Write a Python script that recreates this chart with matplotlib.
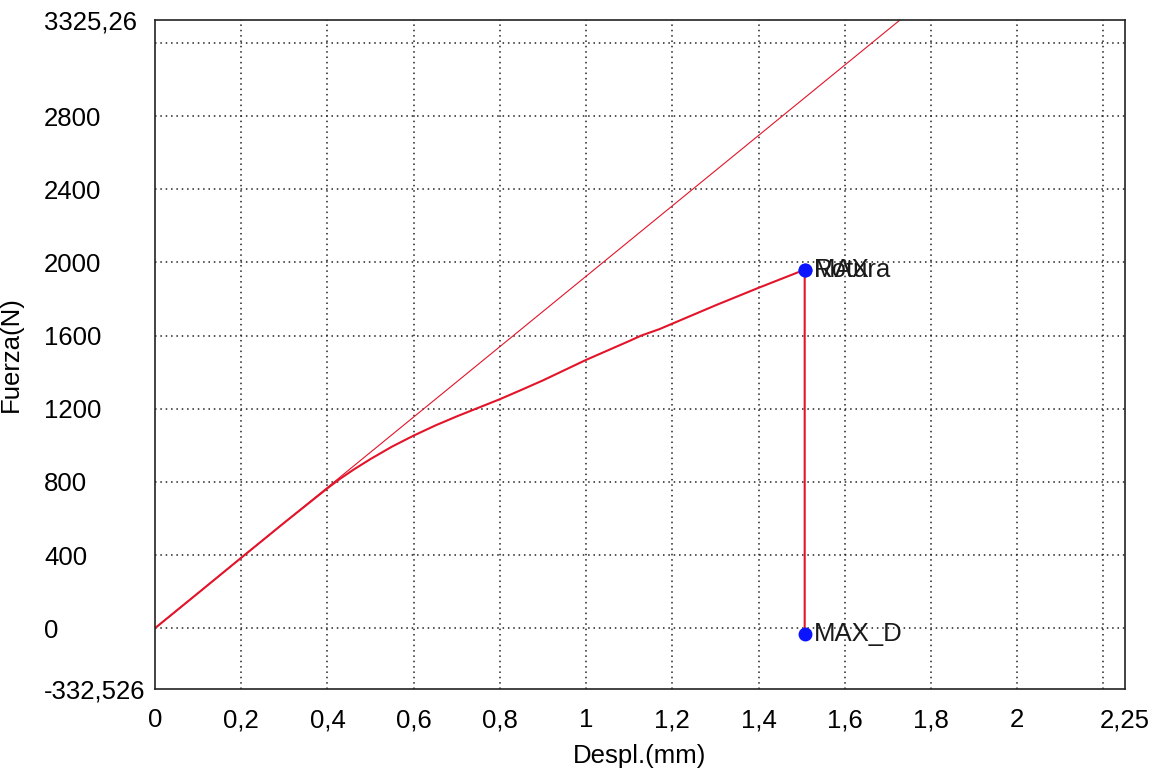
"""
Force vs displacement curve (Fuerza vs Despl.) with the elastic reference line
and the marked points Rotura / MAX / MAX_D.
"""

import matplotlib
matplotlib.use('Agg')
import matplotlib.pyplot as plt

# Test curve
despl_mm = [0, 0.1, 0.2, 0.3, 0.4, 0.43, 0.46, 0.5, 0.55, 0.6, 0.65, 0.7, 0.75,
            0.8, 0.85, 0.9, 1.0, 1.1, 1.128, 1.17, 1.2, 1.3, 1.4, 1.507, 1.507]
fuerza_n = [0, 192, 385, 577, 765, 818, 866, 925, 993, 1053, 1108, 1158, 1205,
            1252, 1303, 1355, 1467, 1570, 1600, 1635, 1665, 1765, 1861, 1960, -33]

# Elastic slope line
linea_x = [0, 1.728]
linea_y = [0, 3325.26]

# Marked points
puntos_x = [1.507, 1.507, 1.507]
puntos_y = [1960, 1960, -33]
puntos_nombre = ['Rotura', 'MAX', 'MAX_D']

# Axis ticks
x_ticks = [0, 0.2, 0.4, 0.6, 0.8, 1, 1.2, 1.4, 1.6, 1.8, 2, 2.25]
x_tick_labels = ['0', '0,2', '0,4', '0,6', '0,8', '1', '1,2', '1,4', '1,6', '1,8', '2', '2,25']
x_grid = [0.2, 0.4, 0.6, 0.8, 1.0, 1.2, 1.4, 1.6, 1.8, 2.0, 2.2]
y_ticks = [-332.526, 0, 400, 800, 1200, 1600, 2000, 2400, 2800, 3325.26]
y_tick_labels = ['-332,526', '0', '400', '800', '1200', '1600', '2000', '2400', '2800', '3325,26']
y_grid = [0, 400, 800, 1200, 1600, 2000, 2400, 2800, 3200]

ROJO = '#e3142a'
FS = 18.5

plt.rcParams['font.family'] = ['Liberation Sans', 'DejaVu Sans']

fig = plt.figure(figsize=(11.55, 7.72), dpi=100)
ax = fig.add_axes([155 / 1155, 83 / 772, 970 / 1155, 669 / 772])

# dotted grid
for gx in x_grid:
    ax.axvline(gx, linestyle=(0, (1, 2.5)), color='#222222', linewidth=1.1, zorder=0)
for gy in y_grid:
    ax.axhline(gy, linestyle=(0, (1, 2.5)), color='#222222', linewidth=1.1, zorder=0)

ax.plot(linea_x, linea_y, color=ROJO, linewidth=0.8)
ax.plot(despl_mm, fuerza_n, color=ROJO, linewidth=1.5)
ax.plot(puntos_x, puntos_y, 'o', color='#0a14ff', markersize=9, zorder=5)
for px, py, nombre in zip(puntos_x, puntos_y, puntos_nombre):
    ax.text(px + 0.022, py, nombre, fontsize=FS, color='#1a1a1a',
            ha='left', va='center')

ax.set_xlim(0, 2.25)
ax.set_ylim(-332.526, 3325.26)

ax.set_xticks(x_ticks)
ax.set_xticklabels(x_tick_labels, fontsize=FS)
ax.set_yticks(y_ticks)
ax.set_yticklabels(y_tick_labels, fontsize=FS)
ax.tick_params(which='both', length=0)
ax.tick_params(axis='x', pad=14)
ax.tick_params(axis='y', pad=80)
for lbl in ax.get_yticklabels():
    lbl.set_horizontalalignment('left')

for spine in ax.spines.values():
    spine.set_linewidth(1.2)
    spine.set_color('#222222')

ax.set_xlabel('Despl.(mm)', fontsize=FS, labelpad=8)
ax.set_ylabel('Fuerza(N)', fontsize=FS)
ax.yaxis.set_label_coords(-0.136, 0.5)

fig.savefig('out.png', dpi=100)
